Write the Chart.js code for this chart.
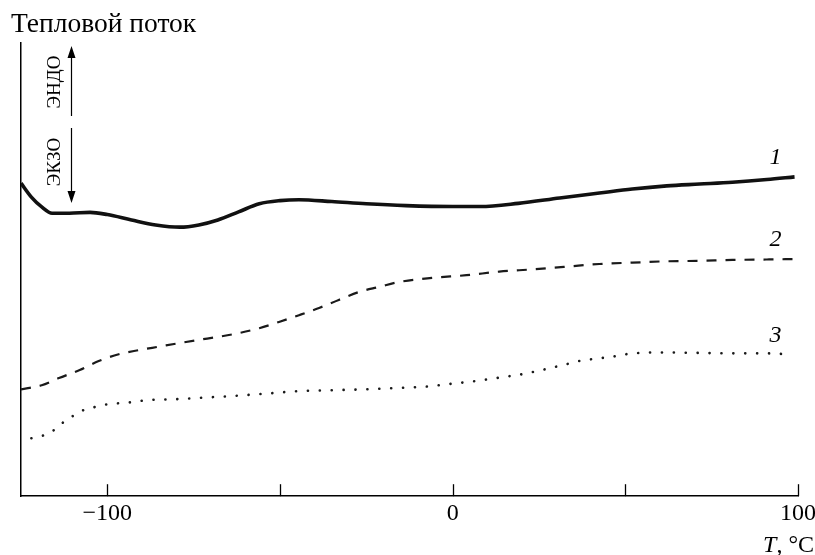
<!DOCTYPE html>
<html>
<head>
<meta charset="utf-8">
<script src="https://cdn.jsdelivr.net/npm/chart.js@4.4.1/dist/chart.umd.min.js"></script>
<style>
  html, body { margin: 0; padding: 0; background: #fff; }
  #wrap { width: 815px; height: 555px; }
</style>
</head>
<body>
<div id="wrap"><canvas id="c" width="815" height="555"></canvas></div>
<script>
// DSC heating curves: temperature (°C) vs heat flow (arbitrary units)
const temp1 = [-125, -122, -119, -116, -111, -105, -100, -93, -86, -79, -73.5, -68, -62, -56, -50, -44.5, -35, -25, -13.5, 0, 8, 19, 31, 42.5, 52, 62, 71.5, 81, 91, 99];
const flow1 = [6.88, 6.57, 6.35, 6.21, 6.21, 6.23, 6.18, 6.06, 5.95, 5.90, 5.95, 6.06, 6.24, 6.42, 6.49, 6.51, 6.47, 6.42, 6.38, 6.36, 6.36, 6.43, 6.55, 6.66, 6.75, 6.82, 6.86, 6.90, 6.96, 7.02];

const temp2 = [-125, -119, -114, -108, -102.5, -96.7, -91, -85, -79, -73.5, -67.7, -62, -56, -50.3, -44.5, -38.7, -33, -27, -21.3, -15.5, -6, 4, 13.5, 23, 33, 42.5, 52, 62, 71.5, 81, 91, 99];
const flow2 = [2.29, 2.38, 2.54, 2.72, 2.92, 3.07, 3.16, 3.24, 3.32, 3.39, 3.46, 3.54, 3.65, 3.79, 3.94, 4.10, 4.28, 4.46, 4.57, 4.68, 4.77, 4.83, 4.91, 4.96, 5.02, 5.08, 5.11, 5.14, 5.15, 5.17, 5.18, 5.19];

const temp3 = [-122, -119, -115.5, -113, -110.3, -106.8, -103.3, -99.6, -94.6, -88, -80, -73.5, -64, -53, -44.5, -35, -25, -15.5, -7.7, -0.7, 6.2, 13.5, 20.4, 27, 33, 36.7, 42.5, 47.4, 52, 62, 71.5, 81, 91, 97.5];
const flow3 = [1.20, 1.25, 1.38, 1.54, 1.68, 1.83, 1.90, 1.96, 1.99, 2.05, 2.07, 2.10, 2.14, 2.20, 2.25, 2.27, 2.29, 2.32, 2.35, 2.41, 2.47, 2.55, 2.63, 2.74, 2.85, 2.92, 2.98, 3.03, 3.09, 3.11, 3.10, 3.09, 3.09, 3.07];

const seriesNames = ['1', '2', '3'];
const xTickValues = [-100, -50, 0, 50, 100];
const xTickLabels = ['\u2212100', '', '0', '', '100'];

const SERIF = '"Liberation Serif", "DejaVu Serif", serif';

function points(xs, ys) {
  return xs.map((x, i) => ({ x: x, y: ys[i] }));
}

// Tick marks pointing into the plot, plus the free-standing text and arrows
const decorations = {
  id: 'decorations',
  afterDatasetsDraw(chart) {
    const ctx = chart.ctx;
    const xs = chart.scales.x;
    const ys = chart.scales.y;
    const area = chart.chartArea;
    ctx.save();
    ctx.strokeStyle = '#000';
    ctx.fillStyle = '#000';

    // inward ticks on the temperature axis
    ctx.lineWidth = 1.3;
    xTickValues.forEach(v => {
      const px = Math.round(xs.getPixelForValue(v)) + 0.5;
      ctx.beginPath();
      ctx.moveTo(px, area.bottom);
      ctx.lineTo(px, area.bottom - 12);
      ctx.stroke();
    });

    // axis title of the vertical axis
    ctx.font = '27.5px ' + SERIF;
    ctx.textAlign = 'left';
    ctx.textBaseline = 'alphabetic';
    ctx.fillText('Тепловой поток', 11, 32);

    // axis title of the horizontal axis: italic T, upright unit
    ctx.font = '24px ' + SERIF;
    const unit = ', \u00B0C';
    const unitW = ctx.measureText(unit).width;
    ctx.textAlign = 'right';
    ctx.fillText(unit, 814, 552);
    ctx.font = 'italic 24px ' + SERIF;
    ctx.fillText('T', 814 - unitW, 552);

    // endo / exo direction arrows
    const ax = 71.5;
    ctx.lineWidth = 1.2;
    ctx.beginPath();
    ctx.moveTo(ax, 116); ctx.lineTo(ax, 52);
    ctx.moveTo(ax, 128); ctx.lineTo(ax, 197);
    ctx.stroke();
    ctx.beginPath();
    ctx.moveTo(ax, 46); ctx.lineTo(ax - 4, 58); ctx.lineTo(ax + 4, 58); ctx.closePath();
    ctx.moveTo(ax, 203); ctx.lineTo(ax - 4, 191); ctx.lineTo(ax + 4, 191); ctx.closePath();
    ctx.fill();

    ctx.font = '19px ' + SERIF;
    ctx.textAlign = 'center';
    ctx.textBaseline = 'middle';
    [['ЭНДО', 82], ['ЭКЗО', 162]].forEach(([t, cy]) => {
      ctx.save();
      ctx.translate(55, cy);
      ctx.rotate(-Math.PI / 2);
      ctx.fillText(t, 0, 0);
      ctx.restore();
    });

    // curve numbers, placed above the right end of each curve
    ctx.font = 'italic 24px ' + SERIF;
    chart.data.datasets.forEach((ds, i) => {
      const last = ds.data[ds.data.length - 1];
      const px = xs.getPixelForValue(93.5);
      const py = ys.getPixelForValue(last.y) - 19;
      ctx.fillText(seriesNames[i], px, py);
    });
    ctx.restore();
  }
};

new Chart(document.getElementById('c'), {
  type: 'line',
  data: {
    datasets: [
      {
        label: seriesNames[0],
        data: points(temp1, flow1),
        borderColor: '#111',
        borderWidth: 3.6,
        pointRadius: 0,
        cubicInterpolationMode: 'monotone'
      },
      {
        label: seriesNames[1],
        data: points(temp2, flow2),
        borderColor: '#1a1a1a',
        borderWidth: 2.2,
        borderDash: [10, 9],
        pointRadius: 0,
        cubicInterpolationMode: 'monotone'
      },
      {
        label: seriesNames[2],
        data: points(temp3, flow3),
        borderColor: '#1a1a1a',
        borderWidth: 2.6,
        borderDash: [0.1, 11.8],
        borderCapStyle: 'round',
        pointRadius: 0,
        cubicInterpolationMode: 'monotone'
      }
    ]
  },
  options: {
    responsive: false,
    animation: false,
    devicePixelRatio: 1,
    layout: { padding: { left: 21, right: 17, top: 43, bottom: 24 } },
    plugins: {
      legend: { display: false },
      tooltip: { enabled: false },
      title: { display: false }
    },
    scales: {
      x: {
        type: 'linear',
        min: -125,
        max: 100,
        afterBuildTicks: scale => { scale.ticks = xTickValues.map(v => ({ value: v })); },
        // the "100" label may run past the axis end, as printed
        afterFit: scale => { scale.paddingRight = 0; scale.paddingLeft = 0; },
        grid: { display: false, drawTicks: false },
        border: { display: true, color: '#000', width: 1.5 },
        ticks: {
          autoSkip: false,
          maxRotation: 0,
          padding: 3,
          color: '#000',
          font: { family: SERIF, size: 24 },
          callback: v => xTickLabels[xTickValues.indexOf(v)]
        }
      },
      y: {
        type: 'linear',
        min: -0.09,
        max: 10,
        grid: { display: false, drawTicks: false },
        border: { display: true, color: '#000', width: 1.5 },
        ticks: { display: false }
      }
    }
  },
  plugins: [decorations]
});
</script>
</body>
</html>
